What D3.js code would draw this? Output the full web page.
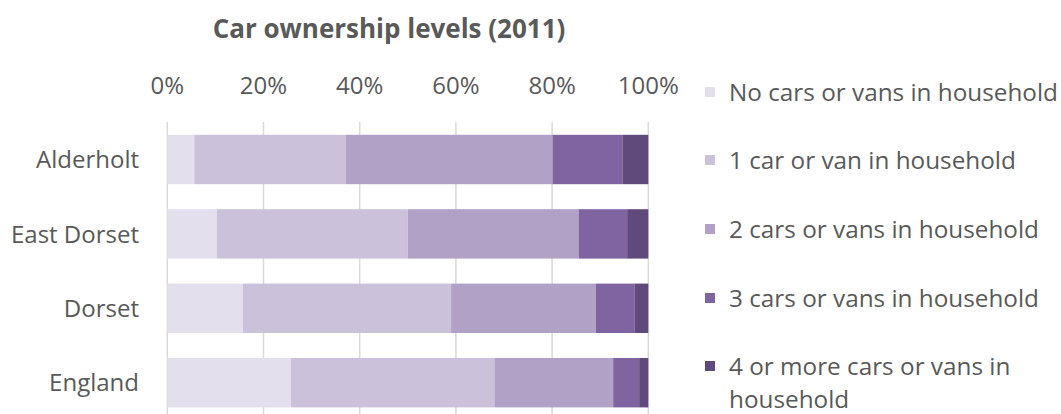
<!DOCTYPE html>
<html>
<head>
<meta charset="utf-8">
<script src="https://cdn.jsdelivr.net/npm/d3@7"></script>
<style>
  body { margin: 0; background: #fff; }
  svg text { font-family: "Open Sans", sans-serif; fill: #595959; }
  .title { font-weight: bold; font-size: 26px; }
  .tick-label, .cat-label { font-size: 24px; }
  .legend-label { font-size: 24.3px; }
  .grid { stroke: #d9d9d9; stroke-width: 1.5; }
</style>
</head>
<body>
<script>
// Car ownership levels (2011), share of households
var categories = ["Alderholt", "East Dorset", "Dorset", "England"];
var seriesNames = [
    "No cars or vans in household",
    "1 car or van in household",
    "2 cars or vans in household",
    "3 cars or vans in household",
    "4 or more cars or vans in household"
];
var noCars   = [5.6, 10.3, 15.7, 25.7];
var oneCar   = [31.5, 39.7, 43.3, 42.3];
var twoCars  = [43.0, 35.5, 30.1, 24.7];
var threeCars = [14.5, 10.1, 8.1, 5.4];
var fourPlus = [5.4, 4.4, 2.8, 1.9];
var tickValues = [0, 0.2, 0.4, 0.6, 0.8, 1];
var colors = ["#e4dfec", "#ccc1da", "#b2a1c7", "#8064a2", "#604a7b"];

var w = 1061, h = 414;

var svg = d3.select("body").append("svg")
    .attr("width", w)
    .attr("height", h);

// build rows for the stack, normalised to 100%
var seriesValues = [noCars, oneCar, twoCars, threeCars, fourPlus];
var rows = categories.map(function(c, i) {
    var row = { cat: c };
    var total = 0;
    seriesValues.forEach(function(s) { total += s[i]; });
    seriesValues.forEach(function(s, k) { row[k] = s[i] / total; });
    return row;
});
var stack = d3.stack().keys(d3.range(seriesNames.length));
var layers = stack(rows);

var x = d3.scaleLinear().domain([0, 1]).range([167.3, 648.3]);
var y = d3.scaleBand().domain(categories).range([122.3, 419.9])
    .paddingInner(0.336).paddingOuter(0.168);

// title
svg.append("text")
    .attr("class", "title")
    .attr("x", 389)
    .attr("y", 38)
    .attr("text-anchor", "middle")
    .text("Car ownership levels (2011)");

// gridlines
svg.append("g").selectAll("line")
    .data(tickValues)
    .enter().append("line")
    .attr("class", "grid")
    .attr("x1", function(d) { return x(d); })
    .attr("x2", function(d) { return x(d); })
    .attr("y1", 122)
    .attr("y2", 420);

// top axis labels
svg.append("g").selectAll("text")
    .data(tickValues)
    .enter().append("text")
    .attr("class", "tick-label")
    .attr("x", function(d) { return x(d); })
    .attr("y", 94)
    .attr("text-anchor", "middle")
    .text(d3.format(".0%"));

// bars
svg.append("g").selectAll("g")
    .data(layers)
    .enter().append("g")
    .attr("fill", function(d, k) { return colors[k]; })
    .selectAll("rect")
    .data(function(d) { return d; })
    .enter().append("rect")
    .attr("x", function(d) { return x(d[0]); })
    .attr("width", function(d) { return x(d[1]) - x(d[0]); })
    .attr("y", function(d) { return y(d.data.cat); })
    .attr("height", y.bandwidth());

// category labels
svg.append("g").selectAll("text")
    .data(categories)
    .enter().append("text")
    .attr("class", "cat-label")
    .attr("x", 139)
    .attr("y", function(d) { return y(d) + y.bandwidth() / 2; })
    .attr("dy", "0.36em")
    .attr("text-anchor", "end")
    .text(function(d) { return d; });

// legend
var legendY = [92, 160, 229, 298, 366];
var legend = svg.append("g").selectAll("g")
    .data(seriesNames)
    .enter().append("g")
    .attr("transform", function(d, k) { return "translate(705," + legendY[k] + ")"; });

legend.append("rect")
    .attr("x", 0)
    .attr("y", -5)
    .attr("width", 10)
    .attr("height", 10)
    .attr("fill", function(d, k) { return colors[k]; });

legend.append("text")
    .attr("class", "legend-label")
    .attr("x", 24)
    .attr("y", 0)
    .attr("dy", "0.35em")
    .each(function(d) {
        var t = d3.select(this);
        if (d.length > 30) {
            // wrap long label the way the original does
            t.append("tspan").attr("x", 24).text("4 or more cars or vans in");
            t.append("tspan").attr("x", 24).attr("dy", "1.38em").text("household");
        } else {
            t.text(d);
        }
    });
</script>
</body>
</html>
